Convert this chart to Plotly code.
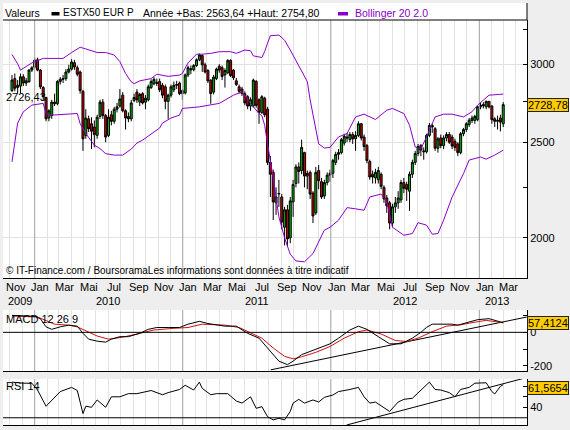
import math
from datetime import date, timedelta
import plotly.graph_objects as go

W, H = 570, 430


def px_x(x):
    return x / W


def px_y(y):
    return 1 - y / H


# ---------------- data (weekly candles, ESTX50) ----------------
first_week = date(2009, 11, 6)

opens = [
    2820, 2900, 2840, 2850, 2912, 2870, 2880, 2958, 2978, 3030,
    2958, 2840, 2775, 2645, 2660, 2745, 2735, 2880, 2895, 2900,
    2945, 2965, 3010, 2975, 2945, 2815, 2540, 2640, 2610, 2590,
    2540, 2655, 2745, 2660, 2540, 2665, 2625, 2700, 2720, 2790,
    2690, 2655, 2640, 2755, 2810, 2745, 2800, 2745, 2760, 2840,
    2865, 2875, 2880, 2855, 2845, 2750, 2790, 2825, 2855, 2870,
    2800, 2805, 2925, 2968, 2960, 2990, 3030, 3060, 2995, 2955,
    2890, 2810, 2900, 2985, 2975, 2925, 2940, 3025, 2958, 2885,
    2845, 2830, 2800, 2780, 2720, 2720, 2880, 2760, 2680, 2770,
    2700, 2385, 2330, 2170, 2215, 2200, 2050, 2135, 2000, 2175,
    2270, 2360, 2340, 2440, 2310, 2330, 2220, 2120, 2340, 2280,
    2205, 2275, 2315, 2325, 2385, 2430, 2440, 2495, 2530, 2515,
    2545, 2520, 2540, 2610, 2530, 2480, 2390, 2320, 2300, 2290,
    2320, 2250, 2195, 2170, 2070, 2150, 2170, 2185, 2275, 2265,
    2230, 2320, 2385, 2435, 2480, 2450, 2445, 2540, 2600, 2580,
    2465, 2525, 2480, 2525, 2545, 2530, 2505, 2490, 2440, 2550,
    2575, 2605, 2630, 2630, 2635, 2715, 2730, 2715, 2750, 2720,
    2640, 2625, 2645, 2610,
]
highs = [
    2925, 2935, 2890, 2935, 2930, 2905, 2965, 2985, 3045, 3045,
    2965, 2850, 2780, 2700, 2760, 2800, 2890, 2910, 2925, 2965,
    2995, 3035, 3030, 2990, 2955, 2825, 2700, 2660, 2650, 2630,
    2665, 2760, 2765, 2670, 2700, 2690, 2715, 2740, 2830, 2810,
    2700, 2680, 2760, 2800, 2830, 2805, 2810, 2790, 2860, 2895,
    2910, 2900, 2900, 2870, 2860, 2800, 2860, 2880, 2885, 2880,
    2830, 2935, 2990, 2990, 3000, 3040, 3075, 3068, 3010, 2965,
    2895, 2925, 2975, 3000, 2990, 2970, 3035, 3035, 2965, 2905,
    2860, 2845, 2815, 2790, 2775, 2900, 2890, 2770, 2790, 2780,
    2715, 2420, 2345, 2250, 2290, 2215, 2150, 2160, 2200, 2290,
    2375, 2385, 2515, 2445, 2340, 2340, 2230, 2360, 2370, 2300,
    2290, 2330, 2345, 2405, 2445, 2460, 2525, 2550, 2555, 2560,
    2560, 2565, 2625, 2615, 2545, 2490, 2400, 2340, 2350, 2360,
    2330, 2260, 2210, 2180, 2165, 2200, 2230, 2290, 2300, 2280,
    2335, 2400, 2450, 2490, 2490, 2470, 2550, 2615, 2610, 2590,
    2530, 2545, 2540, 2560, 2560, 2545, 2520, 2500, 2560, 2585,
    2620, 2645, 2660, 2665, 2720, 2740, 2745, 2754.80, 2752, 2725,
    2650, 2660, 2665, 2745,
]
lows = [
    2810, 2815, 2800, 2800, 2850, 2850, 2870, 2945, 2970, 2950,
    2830, 2755, 2625, 2625, 2640, 2720, 2725, 2860, 2870, 2885,
    2935, 2955, 2960, 2915, 2800, 2450, 2520, 2560, 2460, 2470,
    2520, 2640, 2640, 2500, 2530, 2600, 2610, 2680, 2710, 2680,
    2575, 2620, 2625, 2745, 2740, 2720, 2730, 2700, 2750, 2830,
    2855, 2850, 2810, 2770, 2700, 2640, 2775, 2810, 2830, 2790,
    2760, 2795, 2910, 2930, 2950, 2980, 3020, 2946, 2935, 2870,
    2735, 2795, 2890, 2940, 2890, 2840, 2930, 2910, 2890, 2850,
    2800, 2785, 2725, 2700, 2690, 2710, 2710, 2610, 2670, 2650,
    2370, 2200, 2085, 2110, 2150, 2040, 1965, 1960, 1975, 2100,
    2250, 2270, 2320, 2250, 2240, 2190, 2070, 2110, 2240, 2190,
    2190, 2260, 2280, 2300, 2370, 2400, 2430, 2480, 2500, 2500,
    2490, 2450, 2530, 2510, 2450, 2380, 2290, 2270, 2270, 2270,
    2240, 2170, 2120, 2040, 2050, 2120, 2140, 2170, 2220, 2180,
    2130, 2300, 2370, 2420, 2420, 2400, 2435, 2530, 2555, 2450,
    2440, 2465, 2460, 2505, 2490, 2460, 2450, 2420, 2430, 2535,
    2560, 2590, 2615, 2610, 2625, 2700, 2705, 2700, 2705, 2610,
    2590, 2575, 2563.64, 2590,
]
closes = [
    2890, 2835, 2855, 2912, 2870, 2885, 2958, 2975, 3028, 2958,
    2845, 2780, 2640, 2690, 2745, 2735, 2880, 2895, 2900, 2945,
    2965, 3015, 2980, 2930, 2820, 2520, 2645, 2580, 2565, 2545,
    2650, 2745, 2660, 2530, 2650, 2625, 2700, 2715, 2765, 2690,
    2645, 2640, 2740, 2775, 2760, 2795, 2740, 2770, 2845, 2880,
    2895, 2868, 2825, 2790, 2750, 2790, 2845, 2855, 2860, 2800,
    2820, 2925, 2975, 2960, 2990, 3030, 3065, 2995, 2945, 2885,
    2800, 2910, 2965, 2958, 2915, 2955, 3025, 2920, 2905, 2860,
    2815, 2800, 2740, 2720, 2760, 2890, 2725, 2680, 2780, 2665,
    2385, 2320, 2175, 2200, 2218, 2075, 2135, 1995, 2180, 2265,
    2360, 2335, 2470, 2310, 2325, 2215, 2105, 2330, 2285, 2200,
    2275, 2315, 2325, 2395, 2430, 2440, 2515, 2535, 2525, 2545,
    2520, 2540, 2610, 2525, 2475, 2395, 2305, 2305, 2330, 2340,
    2255, 2190, 2155, 2070, 2150, 2170, 2195, 2275, 2245, 2240,
    2320, 2385, 2435, 2475, 2455, 2445, 2540, 2600, 2590, 2465,
    2520, 2480, 2525, 2545, 2500, 2478, 2470, 2440, 2550, 2575,
    2610, 2632, 2645, 2655, 2715, 2725, 2722, 2750, 2715, 2635,
    2625, 2630, 2620, 2728.78,
]

# Bollinger 20 2.0 (week index -> value)
bb_upper_idx = [0, 2, 3, 5, 7, 11, 18, 21, 24, 26, 30, 33, 36, 38, 40, 42, 43, 45, 49, 51,
                55, 59, 60, 62, 65, 67, 70, 73, 77, 79, 82, 84, 85, 88, 89, 90, 91, 94, 96, 98,
                101, 104, 105, 106, 108, 110, 112, 115, 118, 121, 124, 128, 132, 134, 138, 140,
                142, 144, 146, 149, 152, 155, 159, 162, 164, 168, 173]
bb_upper = [3068, 3002, 2958, 2980, 3008, 3040, 3040, 3082, 3120, 3108, 3082, 3082, 3064, 3017,
            2935, 2878, 2866, 2885, 2900, 2930, 2915, 2924, 2935, 3008, 3070, 3070, 3076, 3088,
            3088, 3076, 3100, 3095, 3058, 3046, 3090, 3150, 3205, 3210, 3172, 3100, 2993, 2880,
            2760, 2663, 2490, 2466, 2470, 2531, 2551, 2652, 2669, 2636, 2694, 2705, 2673, 2601,
            2472, 2462, 2531, 2652, 2669, 2669, 2652, 2684, 2726, 2790, 2797]
bb_lower_idx = [0, 1, 2, 4, 7, 11, 12, 14, 19, 23, 24, 26, 29, 31, 33, 36, 39, 42, 44, 46,
                50, 52, 53, 56, 59, 60, 66, 70, 73, 78, 81, 84, 87, 88, 89, 90, 92, 94, 96, 98,
                100, 103, 106, 110, 112, 115, 118, 121, 124, 126, 130, 132, 134, 138, 141, 143,
                146, 148, 150, 152, 155, 159, 161, 165, 167, 170, 173]
bb_lower = [2388, 2493, 2614, 2684, 2726, 2737, 2673, 2663, 2669, 2673, 2611, 2551, 2483, 2463,
            2434, 2426, 2426, 2460, 2495, 2512, 2560, 2584, 2614, 2645, 2663, 2705, 2715, 2726,
            2737, 2790, 2812, 2737, 2673, 2660, 2600, 2490, 2300, 2100, 2000, 1925, 1895, 1891,
            1928, 2036, 2050, 2084, 2146, 2140, 2133, 2200, 2215, 2175, 2050, 2012, 2020, 2072,
            2060, 2017, 2020, 2084, 2200, 2323, 2398, 2415, 2403, 2426, 2454]

# MACD 12 26 9
macd_idx = [0, 8, 10, 12, 14, 17, 20, 23, 25, 27, 30, 33, 35, 38, 41, 45, 48, 51, 55, 59,
            62, 66, 69, 75, 79, 83, 87, 89, 92, 94, 97, 99, 102, 106, 108, 112, 115, 119, 122,
            125, 129, 133, 137, 141, 144, 146, 148, 155, 157, 161, 164, 168, 171, 173]
macd_vals = [102, 96, 82, 33, 18, 33, 43, 37, -6, -41, -53, -59, -41, -26, -26, -6, 18, 29, 29,
             29, 49, 66, 53, 37, 37, -6, -35, -75, -129, -173, -194, -173, -134, -108, -94, -69,
             -35, 14, 37, 18, -26, -69, -69, -35, 0, 30, 49, 49, 43, 62, 76, 82, 68, 57.4124]
signal_idx = [0, 9, 15, 20, 23, 27, 30, 34, 39, 44, 50, 57, 62, 67, 75, 80, 84, 88, 92, 96,
              99, 102, 107, 112, 117, 122, 125, 130, 135, 139, 143, 148, 153, 158, 161, 167,
              171, 173]
signal_vals = [98, 92, 49, 43, 33, 4, -22, -41, -29, -10, 14, 24, 29, 49, 43, 29, -2, -35, -94,
               -144, -159, -147, -120, -85, -35, 4, 14, -10, -49, -55, -35, 4, 37, 45, 55, 72,
               62, 57]

# RSI 14
rsi_idx = [0, 4, 7, 9, 12, 14, 15, 17, 21, 23, 25, 26, 28, 30, 33, 35, 38, 41, 44, 47, 49,
           53, 55, 59, 61, 64, 66, 67, 70, 72, 76, 79, 81, 84, 86, 88, 90, 92, 94, 96, 98, 99,
           101, 103, 106, 108, 110, 113, 115, 119, 122, 124, 126, 128, 131, 133, 136, 138, 141,
           144, 145, 147, 149, 151, 154, 156, 158, 161, 163, 166, 167, 169, 170, 172, 173]
rsi_vals = [64, 63, 63, 56.5, 41, 47, 50, 55, 59, 56, 34, 41, 40, 47, 40, 50, 50, 53, 53, 55,
            56, 52, 54, 57, 61, 56.5, 64, 58, 52, 53, 53, 46, 44, 50, 39, 40.6, 31, 28, 29.5,
            28, 36, 44, 47.6, 44, 47, 45, 49.5, 51.7, 55, 57, 59, 50, 44, 45, 40, 36, 45, 47.6,
            48.6, 56.5, 59, 64, 57, 56.5, 54, 50, 57, 59, 63, 63, 63.4, 55, 52.7, 60, 61.5654]

ref_level = 2726.43
macd_last = 57.4124
rsi_last = 61.5654
year_low, year_high = 2563.64, 2754.80

macd_trend_dates = ["2011-08-06", "2013-04-28"]
macd_trend_vals = [-225, 92]
rsi_trend_dates = ["2012-02-09", "2013-04-28"]
rsi_trend_vals = [23.1, 68.4]

month_label_dates = ["2009-11-15", "2010-01-15", "2010-03-15", "2010-05-15", "2010-07-15",
                     "2010-09-15", "2010-11-15", "2011-01-15", "2011-03-15", "2011-05-15",
                     "2011-07-15", "2011-09-15", "2011-11-15", "2012-01-15", "2012-03-15",
                     "2012-05-15", "2012-07-15", "2012-09-15", "2012-11-15", "2013-01-15",
                     "2013-03-15"]
month_labels = ["Nov", "Jan", "Mar", "Mai", "Jul", "Sep", "Nov", "Jan", "Mar", "Mai", "Jul",
                "Sep", "Nov", "Jan", "Mar", "Mai", "Jul", "Sep", "Nov", "Jan", "Mar"]
year_label_dates = ["2009-11-26", "2010-07-01", "2011-07-02", "2012-07-01", "2013-02-14"]
year_labels = ["2009", "2010", "2011", "2012", "2013"]
year_starts = ["2010-01-01", "2011-01-01", "2012-01-01", "2013-01-01"]

# axis ranges
main_range = [1821, 3325]
macd_range = [-232, 134]
rsi_range = [23.1, 67.0]

# ---------------- build ----------------
weeks = [(first_week + timedelta(days=7 * i)).isoformat() for i in range(len(closes))]


def wk(idx):
    return [weeks[i] for i in idx]


def fr(v, nd):
    return f"{v:.{nd}f}".replace(".", ",")


FONT = "Liberation Sans, Arial, sans-serif"
PURPLE = "#8a00c8"
GOLD = "#ffcc00"
GRID = "#e2e2e2"
YEARGRID = "#a6a6a6"
X_RANGE = ["2009-10-14 21:00", "2013-04-28 14:00"]

fig = go.Figure()


def year_lines(xa, ya, lo, hi):
    xs, ys = [], []
    for d in year_starts:
        xs += [d, d, None]
        ys += [lo, hi, None]
    fig.add_trace(go.Scatter(x=xs, y=ys, mode="lines", line=dict(color=YEARGRID, width=1),
                             xaxis=xa, yaxis=ya, hoverinfo="skip", showlegend=False,
                             connectgaps=False))


year_lines("x", "y", main_range[0], main_range[1])
year_lines("x2", "y2", macd_range[0], macd_range[1])
year_lines("x3", "y3", rsi_range[0], rsi_range[1])

fig.add_trace(go.Candlestick(
    x=weeks, open=opens, high=highs, low=lows, close=closes,
    increasing=dict(line=dict(color="black", width=1), fillcolor="#00b400"),
    decreasing=dict(line=dict(color="black", width=1), fillcolor="#d00000"),
    whiskerwidth=0, xaxis="x", yaxis="y", hoverinfo="skip", showlegend=False))
fig.add_trace(go.Scatter(x=wk(bb_upper_idx), y=bb_upper, mode="lines",
                         line=dict(color=PURPLE, width=1), xaxis="x", yaxis="y",
                         hoverinfo="skip", showlegend=False))
fig.add_trace(go.Scatter(x=wk(bb_lower_idx), y=bb_lower, mode="lines",
                         line=dict(color=PURPLE, width=1), xaxis="x", yaxis="y",
                         hoverinfo="skip", showlegend=False))

fig.add_trace(go.Scatter(x=macd_trend_dates, y=macd_trend_vals, mode="lines",
                         line=dict(color="black", width=1), xaxis="x2", yaxis="y2",
                         hoverinfo="skip", showlegend=False))
fig.add_trace(go.Scatter(x=wk(signal_idx), y=signal_vals, mode="lines",
                         line=dict(color="#d01010", width=1), xaxis="x2", yaxis="y2",
                         hoverinfo="skip", showlegend=False))
fig.add_trace(go.Scatter(x=wk(macd_idx), y=macd_vals, mode="lines",
                         line=dict(color="black", width=1), xaxis="x2", yaxis="y2",
                         hoverinfo="skip", showlegend=False))

fig.add_trace(go.Scatter(x=rsi_trend_dates, y=rsi_trend_vals, mode="lines",
                         line=dict(color="black", width=1), xaxis="x3", yaxis="y3",
                         hoverinfo="skip", showlegend=False))
fig.add_trace(go.Scatter(x=wk(rsi_idx), y=rsi_vals, mode="lines",
                         line=dict(color="black", width=1), xaxis="x3", yaxis="y3",
                         hoverinfo="skip", showlegend=False))


def xax(anchor):
    return dict(domain=[px_x(3), px_x(527)], range=X_RANGE, type="date", anchor=anchor,
                showgrid=True, gridcolor=GRID, gridwidth=1, tickmode="linear",
                dtick="M1", tick0="2009-11-01", showticklabels=False, ticks="",
                showline=True, linecolor="black", linewidth=1, zeroline=False,
                rangeslider=dict(visible=False), fixedrange=True)


def yax(anchor, top, bottom, **kw):
    d = dict(domain=[px_y(bottom), px_y(top)], anchor=anchor, side="right",
             showline=True, linecolor="black", linewidth=1, ticks="inside", ticklen=4,
             tickcolor="black", zeroline=False, fixedrange=True,
             tickfont=dict(size=11, color="black", family=FONT))
    d.update(kw)
    return d


fig.update_layout(
    width=W, height=H, margin=dict(l=0, r=0, t=0, b=0),
    paper_bgcolor="#eeeeee", plot_bgcolor="white",
    font=dict(family=FONT, size=11, color="black"),
    showlegend=False, hovermode=False, boxgap=0.0,
    xaxis=xax("y"), xaxis2=xax("y2"), xaxis3=xax("y3"),
    yaxis=yax("x", 20, 278, type="log",
              range=[math.log10(main_range[0]), math.log10(main_range[1])],
              tickmode="array", tickvals=[2000, 2500, 3000],
              ticktext=["2000", "2500", "3000"], showgrid=True, gridcolor=GRID,
              minor=dict(tickmode="array", tickvals=[2250, 2750, 3250], ticks="inside",
                         ticklen=4, tickcolor="black", showgrid=False)),
    yaxis2=yax("x2", 310, 371, range=macd_range, tickmode="array",
               tickvals=[-200, -100, 0, 100], ticktext=["-200", "", "0", ""], showgrid=False),
    yaxis3=yax("x3", 379, 425, range=rsi_range, tickmode="array",
               tickvals=[40, 50, 60], ticktext=["40", "", ""], showgrid=False),
)

shapes = []
# header background and frame pieces
shapes.append(dict(type="rect", xref="paper", yref="paper", x0=px_x(3), x1=px_x(527),
                   y0=px_y(20), y1=px_y(3), fillcolor="white", line=dict(width=0),
                   layer="below"))
shapes.append(dict(type="line", xref="paper", yref="paper", x0=px_x(3), x1=px_x(527),
                   y0=px_y(20), y1=px_y(20), line=dict(color="black", width=1)))
shapes.append(dict(type="line", xref="paper", yref="paper", x0=px_x(527), x1=px_x(527),
                   y0=px_y(3), y1=px_y(20), line=dict(color="black", width=1)))
# legend swatches in header
shapes.append(dict(type="rect", xref="paper", yref="paper", x0=px_x(51.5), x1=px_x(59.5),
                   y0=px_y(15.5), y1=px_y(12), fillcolor="black", line=dict(width=0)))
shapes.append(dict(type="rect", xref="paper", yref="paper", x0=px_x(338), x1=px_x(348),
                   y0=px_y(15.5), y1=px_y(12), fillcolor=PURPLE, line=dict(width=0)))
# reference lines
shapes.append(dict(type="line", xref="x domain", yref="y", x0=0, x1=1,
                   y0=math.log10(ref_level), y1=math.log10(ref_level),
                   line=dict(color="black", width=1)))
shapes.append(dict(type="line", xref="x2 domain", yref="y2", x0=0, x1=1, y0=0, y1=0,
                   line=dict(color="black", width=1)))
shapes.append(dict(type="line", xref="x3 domain", yref="y3", x0=0, x1=1, y0=30, y1=30,
                   line=dict(color="black", width=1)))
fig.update_layout(shapes=shapes)

ann = []


def txt(x, y, text, size=11, color="black", xanchor="left"):
    ann.append(dict(xref="paper", yref="paper", x=px_x(x), y=px_y(y), text=text,
                    showarrow=False, xanchor=xanchor, yanchor="middle",
                    font=dict(size=size, color=color, family=FONT)))


txt(3, 12.5, "Valeurs", 10.5)
txt(61, 12.5, "ESTX50 EUR P", 10)
txt(141, 12.5, f"Année +Bas: {fr(year_low, 2)} +Haut: {fr(year_high, 2)}", 10.5)
txt(353, 12.5, "Bollinger 20 2.0", 10.5, PURPLE)
txt(4, 97.5, fr(ref_level, 2), 11)
txt(4, 270.5, "© IT-Finance.com / BoursoramaLes informations sont données à titre indicatif", 10)
txt(4, 319, "MACD 12 26 9", 11)
txt(4, 386, "RSI 14", 11)

for d, t in zip(month_label_dates, month_labels):
    ann.append(dict(xref="x", yref="paper", x=d, y=px_y(287.3), text=t, showarrow=False,
                    xanchor="center", yanchor="middle",
                    font=dict(size=11, color="black", family=FONT)))
for d, t in zip(year_label_dates, year_labels):
    ann.append(dict(xref="x", yref="paper", x=d, y=px_y(301), text=t, showarrow=False,
                    xanchor="center", yanchor="middle",
                    font=dict(size=11, color="black", family=FONT)))


def badge(yref, yval, text, yshift=0):
    ann.append(dict(xref="paper", x=px_x(526.5), xanchor="left", yref=yref, y=yval,
                    yanchor="middle", yshift=yshift, text=text, showarrow=False,
                    bgcolor=GOLD, bordercolor="#222222", borderwidth=1, borderpad=0,
                    font=dict(size=11, color="black", family=FONT)))


badge("y", math.log10(closes[-1]), fr(closes[-1], 2))
badge("y2", macd_last, fr(macd_last, 4), 0)
badge("y3", rsi_last, fr(rsi_last, 4), -3)

fig.update_layout(annotations=ann)

fig.write_html("out.html", config={"displayModeBar": False})
